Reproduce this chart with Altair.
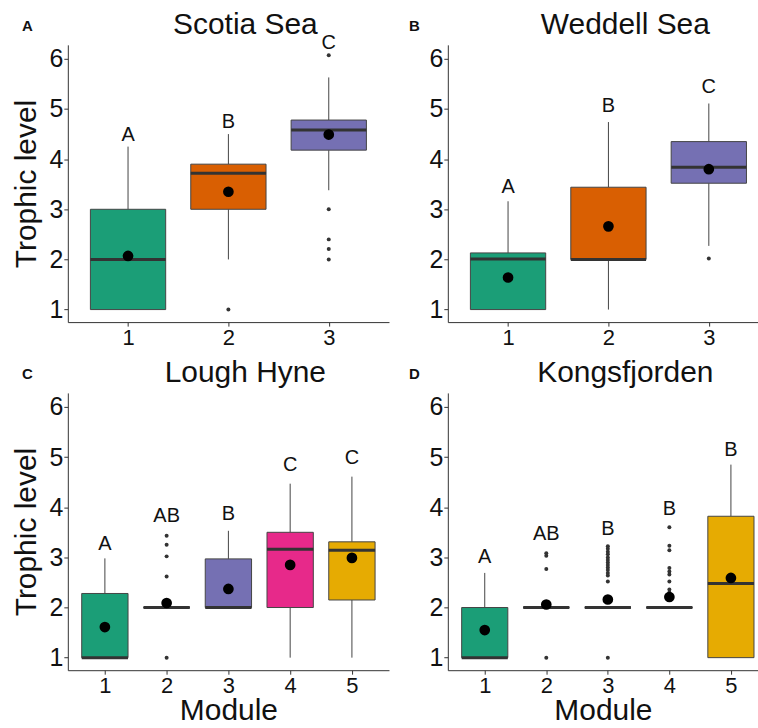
import altair as alt
import pandas as pd

FONT = "Liberation Sans"
COLORS = ["#1B9E77", "#D95F02", "#7570B3", "#E7298A", "#E6AB02"]

panel_titles = ["Scotia Sea", "Weddell Sea", "Lough Hyne", "Kongsfjorden"]
panel_tags = ["A", "B", "C", "D"]

# ---- Scotia Sea
scotia_modules = [1, 2, 3]
scotia_q1 = [1.0, 3.0, 4.18]
scotia_median = [2.0, 3.72, 4.58]
scotia_q3 = [3.0, 3.9, 4.78]
scotia_low = [1.0, 2.0, 3.38]
scotia_high = [4.25, 4.5, 5.63]
scotia_mean = [2.07, 3.35, 4.49]
scotia_letters = ["A", "B", "C"]
scotia_letter_y = [4.48, 4.75, 6.32]
scotia_out_module = [2, 3, 3, 3, 3, 3]
scotia_out_value = [1.0, 6.07, 3.0, 2.4, 2.21, 2.0]

# ---- Weddell Sea
weddell_modules = [1, 2, 3]
weddell_q1 = [1.0, 2.0, 3.52]
weddell_median = [2.01, 2.0, 3.84]
weddell_q3 = [2.13, 3.44, 4.35]
weddell_low = [1.0, 1.0, 2.27]
weddell_high = [3.16, 4.74, 5.11]
weddell_mean = [1.64, 2.66, 3.8]
weddell_letters = ["A", "B", "C"]
weddell_letter_y = [3.45, 5.05, 5.43]
weddell_out_module = [3]
weddell_out_value = [2.02]

# ---- Lough Hyne
hyne_modules = [1, 2, 3, 4, 5]
hyne_q1 = [1.0, 2.0, 2.0, 2.0, 2.15]
hyne_median = [1.0, 2.0, 2.0, 3.16, 3.14]
hyne_q3 = [2.28, 2.0, 2.97, 3.5, 3.31]
hyne_low = [1.0, 2.0, 2.0, 1.0, 1.0]
hyne_high = [2.98, 2.0, 3.53, 4.47, 4.61]
hyne_mean = [1.61, 2.09, 2.37, 2.85, 2.99]
hyne_letters = ["A", "AB", "B", "C", "C"]
hyne_letter_y = [3.26, 3.82, 3.87, 4.85, 4.98]
hyne_out_module = [2, 2, 2, 2, 2]
hyne_out_value = [3.43, 3.25, 3.02, 2.62, 1.0]

# ---- Kongsfjorden
kongs_modules = [1, 2, 3, 4, 5]
kongs_q1 = [1.0, 2.0, 2.0, 2.0, 1.0]
kongs_median = [1.0, 2.0, 2.0, 2.0, 2.48]
kongs_q3 = [2.0, 2.0, 2.0, 2.0, 3.82]
kongs_low = [1.0, 2.0, 2.0, 2.0, 1.0]
kongs_high = [2.69, 2.0, 2.0, 2.0, 4.85]
kongs_mean = [1.55, 2.06, 2.16, 2.21, 2.59]
kongs_letters = ["A", "AB", "B", "B", "B"]
kongs_letter_y = [3.01, 3.46, 3.57, 3.97, 5.15]
kongs_out_module = [2, 2, 2, 2,
                    3, 3, 3, 3, 3, 3, 3, 3, 3, 3, 3, 3, 3, 3,
                    4, 4, 4, 4, 4, 4, 4, 4, 4]
kongs_out_value = [3.08, 3.03, 2.77, 1.0,
                   3.22, 3.17, 3.11, 3.06, 3.0, 2.95, 2.9, 2.85, 2.8, 2.75, 2.69, 2.64, 2.52, 1.0,
                   3.6, 3.23, 3.14, 2.79, 2.72, 2.66, 2.52, 2.36, 2.3]

Y_DOMAIN = [0.75, 6.28]
BOX_HALF = 0.375


def panel(title, tag, modules, q1, med, q3, low, high, mean, letters, letter_y,
          out_m, out_v, width, xmax, show_ytitle, show_xtitle):
    stats = pd.DataFrame({
        "module": modules, "q1": q1, "median": med, "q3": q3,
        "low": low, "high": high, "mean": mean,
        "letter": letters, "letter_y": letter_y,
        "color": COLORS[:len(modules)],
    })
    stats["xl"] = stats["module"] - BOX_HALF
    stats["xr"] = stats["module"] + BOX_HALF
    outs = pd.DataFrame({"module": out_m, "value": out_v})

    xscale = alt.Scale(domain=[0.4, xmax], nice=False, zero=False)
    yscale = alt.Scale(domain=Y_DOMAIN, nice=False, zero=False)
    xaxis = alt.Axis(values=modules, format="d", grid=False,
                     labelFontSize=22, labelColor="#111", labelFont=FONT,
                     labelPadding=1, tickSize=4, tickColor="#333",
                     domainColor="#333", labelFlush=False,
                     title="Module" if show_xtitle else "",
                     titleFontSize=30, titleFont=FONT, titleFontWeight="normal",
                     titleColor="#111", titlePadding=-1)
    yaxis = alt.Axis(values=[1, 2, 3, 4, 5, 6], format="d", grid=False,
                     labelFontSize=25, labelColor="#111", labelFont=FONT,
                     labelPadding=1, tickSize=4, tickColor="#333",
                     domainColor="#333",
                     title="Trophic level" if show_ytitle else "",
                     titleFontSize=30, titleFont=FONT, titleFontWeight="normal",
                     titleColor="#111", titlePadding=8)

    def X(f):
        return alt.X(f, type="quantitative", scale=xscale, axis=xaxis)

    def Y(f):
        return alt.Y(f, type="quantitative", scale=yscale, axis=yaxis)

    base = alt.Chart(stats)
    whisk_lo = base.mark_rule(color="#444", strokeWidth=1).encode(
        x=X("module"), y=Y("low"), y2="q1")
    whisk_hi = base.mark_rule(color="#444", strokeWidth=1).encode(
        x=X("module"), y=Y("q3"), y2="high")
    box = base.mark_bar(stroke="#444", strokeWidth=1).encode(
        x=X("xl"), x2="xr", y=Y("q1"), y2="q3",
        fill=alt.Fill("color:N", scale=None))
    median = base.mark_rule(color="#333", strokeWidth=3).encode(
        x=X("xl"), x2="xr", y=Y("median"))
    outliers = alt.Chart(outs).mark_circle(color="#333", size=16, opacity=1).encode(
        x=X("module"), y=Y("value"))
    means = base.mark_circle(color="black", size=115, opacity=1).encode(
        x=X("module"), y=Y("mean"))
    lett = base.mark_text(font=FONT, fontSize=20, color="#111", baseline="middle").encode(
        x=X("module"), y=Y("letter_y"), text="letter:N")
    ttl = alt.Chart(pd.DataFrame({"t": [title]})).mark_text(
        font=FONT, fontSize=30, color="#111", baseline="alphabetic", align="center"
    ).encode(x=alt.value(178), y=alt.value(-11), text="t:N")
    tg = alt.Chart(pd.DataFrame({"t": [tag]})).mark_text(
        font=FONT, fontSize=15, fontWeight="bold", color="#111",
        baseline="alphabetic", align="left"
    ).encode(x=alt.value(-46 if show_ytitle else -39), y=alt.value(-14), text="t:N")

    return alt.layer(whisk_lo, whisk_hi, box, median, outliers, means, lett, ttl, tg).properties(
        width=width, height=278)


pA = panel(panel_titles[0], panel_tags[0], scotia_modules, scotia_q1, scotia_median, scotia_q3,
           scotia_low, scotia_high, scotia_mean, scotia_letters, scotia_letter_y,
           scotia_out_module, scotia_out_value, 322, 3.6, True, False)
pB = panel(panel_titles[1], panel_tags[1], weddell_modules, weddell_q1, weddell_median, weddell_q3,
           weddell_low, weddell_high, weddell_mean, weddell_letters, weddell_letter_y,
           weddell_out_module, weddell_out_value, 311, 3.49, False, False)
pC = panel(panel_titles[2], panel_tags[2], hyne_modules, hyne_q1, hyne_median, hyne_q3,
           hyne_low, hyne_high, hyne_mean, hyne_letters, hyne_letter_y,
           hyne_out_module, hyne_out_value, 322, 5.6, True, True)
pD = panel(panel_titles[3], panel_tags[3], kongs_modules, kongs_q1, kongs_median, kongs_q3,
           kongs_low, kongs_high, kongs_mean, kongs_letters, kongs_letter_y,
           kongs_out_module, kongs_out_value, 311, 5.44, False, True)

chart = alt.concat(pA, pB, pC, pD, columns=2,
                   spacing=alt.RowColnumber(row=71, column=59),
                   bounds="flush").properties(
    padding={"left": 11, "top": 9, "right": 0, "bottom": 0},
    background="white",
).configure_view(stroke=None).configure_axis(domainWidth=1, tickWidth=1)

chart.save("out.html", embed_options={"renderer": "svg", "actions": False})
